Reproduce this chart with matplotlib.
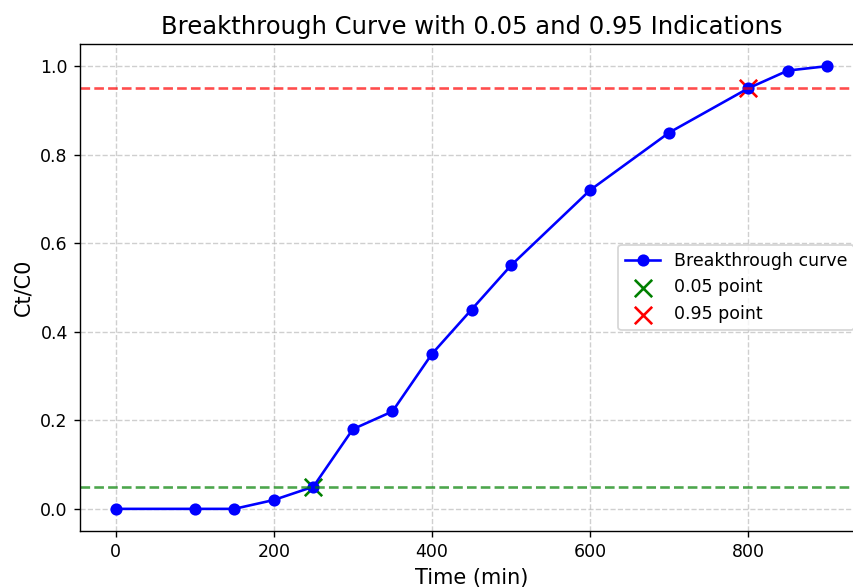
import numpy as np
import matplotlib
matplotlib.use("Agg")
import matplotlib.pyplot as plt

# Breakthrough curve data
time_min = [0, 100, 150, 200, 250, 300, 350, 400, 450, 500, 600, 700, 800, 850, 900]
ct_c0 = [0.0, 0.0, 0.0, 0.02, 0.05, 0.18, 0.22, 0.35, 0.45, 0.55, 0.72, 0.85, 0.95, 0.99, 1.0]

# indication levels and where the curve hits them
levels = [0.05, 0.95]
level_times = [250, 800]
level_colors = ['green', 'red']
level_labels = ['0.05 point', '0.95 point']

DPI = 125
fig = plt.figure(figsize=(853 / DPI, 588 / DPI), dpi=DPI)
# axes runs a little past the right edge, like the reference crop
ax = fig.add_axes([80 / 853, 57 / 588, 783 / 853, 487 / 588])

ax.plot(time_min, ct_c0, marker='o', color='b', label='Breakthrough curve')

for lvl, t, c, lab in zip(levels, level_times, level_colors, level_labels):
    ax.axhline(y=lvl, color=c, linestyle='--', alpha=0.7)
    ax.scatter([t], [lvl], color=c, marker='x', s=100, label=lab)

ax.set_title('Breakthrough Curve with 0.05 and 0.95 Indications', fontsize=14)
ax.set_xlabel('Time (min)', fontsize=12)
ax.set_ylabel('Ct/C0', fontsize=12)
ax.grid(True, linestyle='--', alpha=0.6)
ax.legend(loc='center right')

fig.savefig('out.png', dpi=DPI)
